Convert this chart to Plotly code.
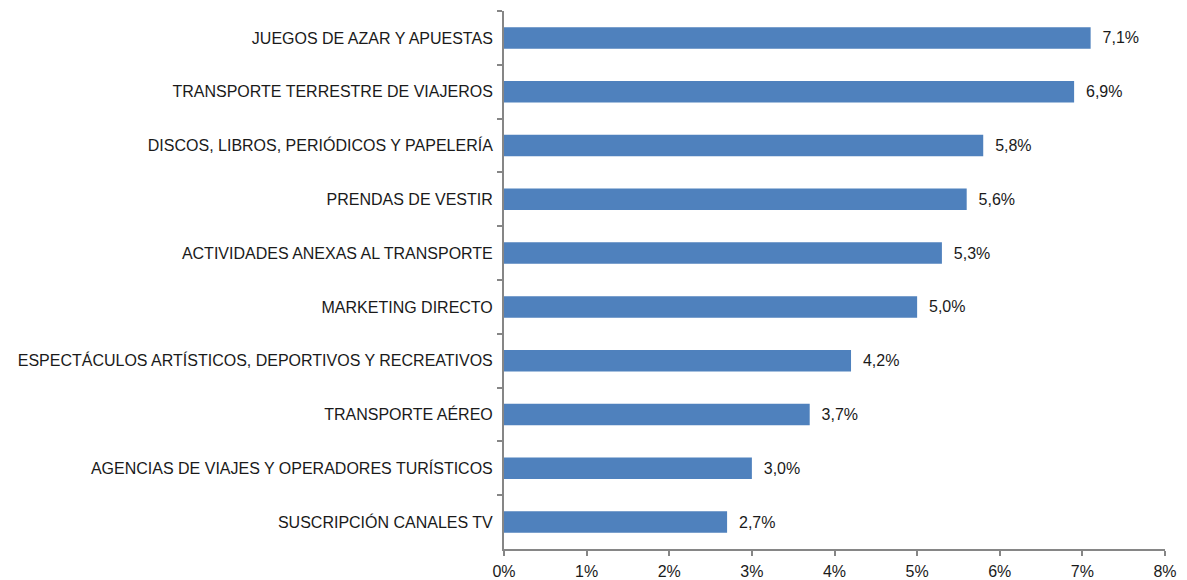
import plotly.graph_objects as go

CATEGORIES = [
    "JUEGOS DE AZAR Y APUESTAS",
    "TRANSPORTE TERRESTRE DE VIAJEROS",
    "DISCOS, LIBROS, PERIÓDICOS Y PAPELERÍA",
    "PRENDAS DE VESTIR",
    "ACTIVIDADES ANEXAS AL TRANSPORTE",
    "MARKETING DIRECTO",
    "ESPECTÁCULOS ARTÍSTICOS, DEPORTIVOS Y RECREATIVOS",
    "TRANSPORTE AÉREO",
    "AGENCIAS DE VIAJES Y OPERADORES TURÍSTICOS",
    "SUSCRIPCIÓN CANALES TV",
]
VALUES = [7.1, 6.9, 5.8, 5.6, 5.3, 5.0, 4.2, 3.7, 3.0, 2.7]
X_TICKS = [0, 1, 2, 3, 4, 5, 6, 7, 8]

BAR = "#4f81bd"
AXIS = "#868686"
FONT = dict(family="Liberation Sans, Arial, sans-serif", size=16, color="#1a1a1a")

labels = ["  " + f"{v:.1f}".replace(".", ",") + "%" for v in VALUES]

fig = go.Figure(go.Bar(
    x=VALUES, y=CATEGORIES, orientation="h",
    marker=dict(color=BAR, line=dict(width=0)),
    width=0.4,
    text=labels, textposition="outside", cliponaxis=False,
    textfont=FONT,
))

fig.update_layout(
    width=1172, height=575,
    plot_bgcolor="white", paper_bgcolor="white",
    font=FONT,
    margin=dict(l=496, r=15, t=3, b=21),
    showlegend=False,
)
fig.update_xaxes(
    range=[0, 8], tickvals=X_TICKS, ticktext=[f"{t}%" for t in X_TICKS],
    showgrid=False, zeroline=False,
    showline=True, linecolor=AXIS, linewidth=2,
    ticks="outside", ticklen=5, tickcolor=AXIS, tickwidth=2,
    ticklabelstandoff=2,
)
fig.update_yaxes(
    autorange="reversed", showgrid=False, zeroline=False,
    showline=True, linecolor=AXIS, linewidth=2,
    ticks="outside", ticklen=5, tickcolor=AXIS, tickwidth=2,
    tickson="boundaries", ticklabelstandoff=6,
)

fig.write_html("out.html")
